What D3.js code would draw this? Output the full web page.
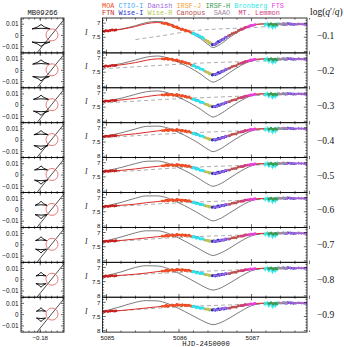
<!DOCTYPE html>
<html>
<head>
<meta charset="utf-8">
<script src="https://cdn.jsdelivr.net/npm/d3@7/dist/d3.min.js"></script>
<style>
  html, body { margin: 0; padding: 0; background: #fff; }
  svg { display: block; }
</style>
</head>
<body>
<div id="chart"></div>
<script>
"use strict";

// q'/q per row (log)
const PANEL_LABELS = ["−0.1", "−0.2", "−0.3", "−0.4", "−0.5", "−0.6", "−0.7", "−0.8", "−0.9"];

// caustic geometry per row
const CAUSTIC_X = -0.1793;
const CAUSTIC_TIP = [0.0097, 0.0093, 0.0089, 0.0085, 0.0081, 0.0077, 0.0072, 0.0067, 0.0062];
const CAUSTIC_WING = [0.0058, 0.0055, 0.0052, 0.0048, 0.0045, 0.0041, 0.0038, 0.0034, 0.0030];
const CAUSTIC_HALF = [0.0080, 0.0074, 0.0068, 0.0063, 0.0058, 0.0053, 0.0049, 0.0045, 0.0041];
const TRAJ_X = [-0.1860, -0.1570];
const TRAJ_Y = [-0.0193, 0.0167];
const SOURCE = [-0.1696, 0.0005];
const SOURCE_R = 0.0053;

// model light curves, I mag at these HJD'
const T_NODES = [5084.94, 5085.2, 5085.4, 5085.55, 5085.7, 5085.85, 5086.0, 5086.15, 5086.3,
  5086.4, 5086.47, 5086.55, 5086.7, 5086.85, 5087.0, 5087.15, 5087.4, 5087.77];

const RED_MODEL = [
  [7.29, 7.22, 7.12, 7.02, 6.98, 7.03, 7.18, 7.31, 7.47, 7.65, 7.77, 7.66, 7.42, 7.23, 7.08, 7.03, 7.03, 7.04],
  [7.30, 7.24, 7.16, 7.08, 7.03, 7.03, 7.10, 7.22, 7.37, 7.52, 7.60, 7.53, 7.35, 7.19, 7.07, 7.03, 7.03, 7.04],
  [7.30, 7.25, 7.19, 7.13, 7.08, 7.06, 7.08, 7.17, 7.31, 7.43, 7.49, 7.44, 7.30, 7.17, 7.07, 7.03, 7.03, 7.04],
  [7.31, 7.26, 7.21, 7.16, 7.11, 7.08, 7.08, 7.15, 7.27, 7.38, 7.43, 7.39, 7.27, 7.15, 7.06, 7.03, 7.02, 7.03],
  [7.31, 7.27, 7.22, 7.17, 7.13, 7.09, 7.08, 7.14, 7.25, 7.34, 7.38, 7.35, 7.25, 7.14, 7.06, 7.03, 7.02, 7.03],
  [7.32, 7.27, 7.23, 7.18, 7.14, 7.10, 7.08, 7.13, 7.23, 7.31, 7.34, 7.31, 7.23, 7.13, 7.06, 7.03, 7.02, 7.03],
  [7.32, 7.28, 7.23, 7.19, 7.15, 7.11, 7.08, 7.12, 7.21, 7.29, 7.31, 7.29, 7.22, 7.13, 7.06, 7.03, 7.02, 7.03],
  [7.32, 7.28, 7.24, 7.20, 7.15, 7.11, 7.08, 7.12, 7.20, 7.27, 7.29, 7.27, 7.21, 7.12, 7.06, 7.03, 7.02, 7.03],
  [7.33, 7.29, 7.24, 7.20, 7.16, 7.12, 7.09, 7.12, 7.19, 7.25, 7.27, 7.25, 7.20, 7.12, 7.06, 7.03, 7.02, 7.03]
];

const BLACK_MODEL = [
  [7.29, 7.21, 7.09, 6.98, 6.94, 7.01, 7.17, 7.33, 7.55, 7.75, 7.86, 7.78, 7.50, 7.26, 7.09, 7.03, 7.03, 7.04],
  [7.30, 7.20, 7.07, 6.97, 6.93, 7.00, 7.16, 7.34, 7.57, 7.76, 7.85, 7.77, 7.51, 7.27, 7.10, 7.04, 7.03, 7.04],
  [7.30, 7.19, 7.05, 6.96, 6.93, 7.00, 7.16, 7.35, 7.58, 7.76, 7.85, 7.77, 7.52, 7.28, 7.10, 7.04, 7.03, 7.04],
  [7.31, 7.18, 7.04, 6.95, 6.94, 7.01, 7.17, 7.36, 7.59, 7.76, 7.84, 7.77, 7.53, 7.29, 7.11, 7.04, 7.02, 7.03],
  [7.31, 7.17, 7.03, 6.95, 6.94, 7.02, 7.18, 7.37, 7.60, 7.76, 7.83, 7.77, 7.54, 7.30, 7.11, 7.04, 7.02, 7.03],
  [7.32, 7.17, 7.02, 6.94, 6.94, 7.02, 7.19, 7.38, 7.60, 7.75, 7.82, 7.76, 7.54, 7.30, 7.11, 7.04, 7.02, 7.03],
  [7.32, 7.16, 7.01, 6.94, 6.94, 7.03, 7.20, 7.40, 7.61, 7.75, 7.81, 7.75, 7.55, 7.31, 7.12, 7.04, 7.02, 7.03],
  [7.32, 7.16, 7.00, 6.94, 6.95, 7.04, 7.21, 7.41, 7.62, 7.75, 7.80, 7.75, 7.55, 7.32, 7.12, 7.04, 7.02, 7.03],
  [7.33, 7.15, 7.00, 6.94, 6.95, 7.05, 7.22, 7.42, 7.62, 7.74, 7.79, 7.74, 7.55, 7.32, 7.12, 7.04, 7.02, 7.03]
];

// single-lens comparison (dashed)
const DASH_T = [5084.94, 5085.4, 5085.8, 5086.2, 5086.6, 5087.0, 5087.4, 5087.77];
const DASH_MODEL = [
  [null, 7.58, 7.43, 7.27, 7.20, 7.16, 7.09, 7.05],
  [7.38, 7.31, 7.25, 7.19, 7.15, 7.12, 7.08, 7.05],
  [7.36, 7.29, 7.23, 7.18, 7.14, 7.10, 7.07, 7.05],
  [7.35, 7.28, 7.22, 7.17, 7.13, 7.09, 7.06, 7.04],
  [7.34, 7.28, 7.21, 7.16, 7.12, 7.09, 7.06, 7.04],
  [7.34, 7.27, 7.21, 7.16, 7.12, 7.08, 7.05, 7.04],
  [7.34, 7.27, 7.20, 7.15, 7.11, 7.08, 7.05, 7.04],
  [7.33, 7.26, 7.20, 7.15, 7.11, 7.07, 7.05, 7.04],
  [7.33, 7.26, 7.19, 7.14, 7.10, 7.07, 7.05, 7.04]
];

// observatories: times, offset from the fitted model, error
const OBS_NAMES = ["FTN", "MOA", "CTIO-I", "Bronberg", "IRSF-J", "Wise-R", "Wise-I", "Danish",
  "Canopus", "MT. Lemmon", "FTS", "Bronberg", "IRSF-H", "SAAO"];
const OBS_COLORS = ["#c81e1e", "#f04e23", "#3fa9f5", "#2ee6e6", "#f5a033", "#b4c85a", "#1e32c8", "#a066e0",
  "#bb5050", "#d23c82", "#e83fd8", "#2ee6e6", "#3a9a50", "#a08ca0"];
const OBS_T = [
  [5084.97, 5084.99, 5085.02, 5085.05, 5085.08, 5085.11, 5085.13, 5085.84, 5085.91, 5085.98, 5086.04, 5086.09],
  [5085.77, 5085.80, 5085.82, 5085.85, 5085.87, 5085.90, 5085.92, 5085.95, 5085.97, 5086.00, 5086.03, 5086.05,
    5086.08, 5086.11, 5086.14, 5086.17],
  [5086.20, 5086.23, 5086.26, 5086.29, 5086.32],
  [5086.19, 5086.21, 5086.24, 5086.27, 5086.30, 5086.33, 5086.35],
  [5086.37, 5086.40, 5086.43],
  [5086.39, 5086.42, 5086.45],
  [5086.46, 5086.48, 5086.50, 5086.52, 5086.54, 5086.56, 5086.58, 5086.60, 5086.62, 5086.65,
    5087.44, 5087.47, 5087.50, 5087.54, 5087.58],
  [5086.49, 5086.53, 5086.57, 5086.61, 5086.64, 5086.68, 5087.49, 5087.53, 5087.57, 5087.61,
    5087.65, 5087.69, 5087.73, 5087.76],
  [5086.70, 5086.73, 5086.76, 5086.79, 5086.82, 5086.85, 5086.88, 5086.91],
  [5086.86, 5086.89, 5086.92, 5086.95],
  [5086.97, 5086.99, 5087.01, 5087.03, 5087.05],
  [5087.19, 5087.22, 5087.24, 5087.27, 5087.29, 5087.31, 5087.33, 5087.36],
  [5087.24, 5087.27, 5087.30, 5087.33, 5087.35],
  [5087.38, 5087.41, 5087.44, 5087.47]
];
const OBS_DM = [
  [0.01, -0.01, 0.01, 0.00, -0.01, 0.01, 0.00, 0.00, -0.01, 0.01, 0.00, -0.01],
  [0.00, 0.01, -0.02, 0.02, 0.00, -0.01, 0.02, 0.01, -0.02, 0.00, 0.02, -0.01, 0.01, 0.00, -0.02, 0.01],
  [0.00, 0.01, -0.01, 0.02, 0.00],
  [0.02, -0.01, 0.03, 0.00, 0.02, -0.01, 0.01],
  [0.01, -0.01, 0.00],
  [0.00, 0.02, -0.01],
  [0.01, -0.01, 0.02, 0.00, -0.02, 0.01, 0.00, -0.01, 0.01, 0.00, 0.00, 0.01, -0.01, 0.00, 0.01],
  [0.00, 0.02, -0.01, 0.01, -0.02, 0.00, 0.01, -0.01, 0.00, 0.01, -0.01, 0.00, 0.01, 0.00],
  [0.01, -0.01, 0.00, 0.02, -0.01, 0.00, 0.01, -0.01],
  [0.00, 0.01, -0.01, 0.00],
  [0.00, -0.01, 0.01, 0.00, -0.01],
  [0.03, 0.00, 0.08, 0.02, 0.12, 0.05, 0.09, 0.01],
  [0.02, 0.00, 0.04, 0.01, 0.03],
  [0.00, 0.01, -0.01, 0.00]
];
const OBS_ERR = [0.015, 0.02, 0.02, 0.03, 0.02, 0.02, 0.015, 0.015, 0.02, 0.02, 0.02, 0.09, 0.04, 0.02];

const LEGEND_ROW1 = [["MOA", "#f04e23"], ["CTIO-I", "#3fa9f5"], ["Danish", "#a066e0"], ["IRSF-J", "#f5a033"],
  ["IRSF-H", "#3a9a50"], ["Bronberg", "#2ee6e6"], ["FTS", "#e83fd8"]];
const LEGEND_ROW2 = [["FTN", "#c81e1e"], ["Wise-I", "#1e32c8"], ["Wise-R", "#b4c85a"], ["Canopus", "#bb5050"],
  [" SAAO", "#a08ca0"], [" MT. Lemmon", "#d23c82"]];

const W = 344, H = 347;
const TOP = 18, PANEL_H = 34.9;
const LX0 = 21, LX1 = 64, RX0 = 102.5, RX1 = 307;
const SANS = "'Liberation Sans', Arial, sans-serif";
const MONO = "'Liberation Mono', 'DejaVu Sans Mono', monospace";
const SERIF = "'Liberation Serif', 'Times New Roman', serif";

const svg = d3.select("#chart").append("svg")
  .attr("width", W).attr("height", H)
  .attr("viewBox", `0 0 ${W} ${H}`);
svg.append("rect").attr("width", W).attr("height", H).attr("fill", "#fff");
const defs = svg.append("defs");

const xL = d3.scaleLinear().domain([-0.197, -0.159]).range([LX0, LX1]);
const xR = d3.scaleLinear().domain([5084.945, 5087.766]).range([RX0, RX1]);

const round = v => Math.round(v * 1e6) / 1e6;

// inward ticks on both sides of a frame
function xTicks(g, scale, vals, y0, y1, len) {
  vals.forEach(v => {
    const x = scale(v);
    g.append("line").attr("x1", x).attr("x2", x).attr("y1", y1).attr("y2", y1 - len);
    g.append("line").attr("x1", x).attr("x2", x).attr("y1", y0).attr("y2", y0 + len);
  });
}
function yTicks(g, scale, vals, x0, x1, len) {
  vals.forEach(v => {
    const y = scale(v);
    g.append("line").attr("x1", x0).attr("x2", x0 + len).attr("y1", y).attr("y2", y);
    g.append("line").attr("x1", x1).attr("x2", x1 - len).attr("y1", y).attr("y2", y);
  });
}

function causticPath(xs, ys, tip, wing, half, sgn) {
  const P = [xs(CAUSTIC_X), ys(sgn * tip)];
  const A = [xs(CAUSTIC_X - half), ys(sgn * wing)];
  const B = [xs(CAUSTIC_X + half), ys(sgn * wing)];
  const C = [(P[0] + A[0] + B[0]) / 3, (P[1] + A[1] + B[1]) / 3];
  const ctrl = (u, v, k) => {
    const m = [(u[0] + v[0]) / 2, (u[1] + v[1]) / 2];
    return [m[0] + (C[0] - m[0]) * k, m[1] + (C[1] - m[1]) * k];
  };
  const p = d3.path();
  p.moveTo(A[0], A[1]);
  let c = ctrl(A, P, 0.5); p.quadraticCurveTo(c[0], c[1], P[0], P[1]);
  c = ctrl(P, B, 0.5); p.quadraticCurveTo(c[0], c[1], B[0], B[1]);
  c = ctrl(B, A, 0.85); p.quadraticCurveTo(c[0], c[1], A[0], A[1]);
  return p.toString();
}

// legend
[[LEGEND_ROW1, 7.6], [LEGEND_ROW2, 14.6]].forEach(([row, y]) => {
  const t = svg.append("text")
    .attr("x", RX0 - 0.5).attr("y", y)
    .attr("font-family", MONO).attr("font-size", "6.9px")
    .style("white-space", "pre");
  row.forEach(([name, color], k) => {
    t.append("tspan").attr("fill", color)
      .text((k > 0 ? " " : "") + name);
  });
});

svg.append("text")
  .attr("x", (LX0 + LX1) / 2).attr("y", 14.5)
  .attr("text-anchor", "middle")
  .attr("font-family", MONO).attr("font-size", "7.2px").attr("fill", "#111")
  .text("MB09266");

const logLab = svg.append("text")
  .attr("x", 310).attr("y", 15)
  .attr("font-family", SERIF).attr("font-size", "9.5px").attr("fill", "#111");
logLab.append("tspan").text("log(");
logLab.append("tspan").attr("font-style", "italic").text("q");
logLab.append("tspan").text("′/");
logLab.append("tspan").attr("font-style", "italic").text("q");
logLab.append("tspan").text(")");

const xMinorL = d3.range(-0.195, -0.159, 0.005).map(round);
const yMajorL = [-0.01, 0, 0.01];
const yMinorL = d3.range(-0.014, 0.0145, 0.002).map(round).filter(v => Math.abs(v % 0.01) > 1e-9);
const xMajorR = [5085, 5086, 5087];
const xMinorR = d3.range(5085, 5087.8, 0.2).map(round).filter(v => !xMajorR.includes(v));
const yMajorR = [7, 7.5, 8];
const yMinorR = d3.range(6.9, 8.05, 0.1).map(round).filter(v => !yMajorR.includes(v));

PANEL_LABELS.forEach((lab, i) => {
  const top = TOP + i * PANEL_H;
  const bot = top + PANEL_H;

  // ---- left: caustics and source trajectory
  const yL = d3.scaleLinear().domain([-0.0155, 0.0155]).range([bot, top]);
  defs.append("clipPath").attr("id", "cl" + i)
    .append("rect").attr("x", LX0).attr("y", top).attr("width", LX1 - LX0).attr("height", PANEL_H);
  const gl = svg.append("g").attr("clip-path", `url(#cl${i})`);

  [1, -1].forEach(sgn => {
    gl.append("path")
      .attr("d", causticPath(xL, yL, CAUSTIC_TIP[i], CAUSTIC_WING[i], CAUSTIC_HALF[i], sgn))
      .attr("fill", "none").attr("stroke", "#000").attr("stroke-width", 0.9)
      .attr("stroke-linejoin", "round");
  });
  gl.append("line")
    .attr("x1", xL(TRAJ_X[0])).attr("y1", yL(TRAJ_Y[0]))
    .attr("x2", xL(TRAJ_X[1])).attr("y2", yL(TRAJ_Y[1]))
    .attr("stroke", "#000").attr("stroke-width", 0.7);
  gl.append("circle")
    .attr("cx", xL(SOURCE[0])).attr("cy", yL(SOURCE[1]))
    .attr("r", xL(SOURCE[0] + SOURCE_R) - xL(SOURCE[0]))
    .attr("fill", "none").attr("stroke", "#e05a5a").attr("stroke-width", 0.8);

  const tl = svg.append("g").attr("stroke", "#000").attr("stroke-width", 0.6);
  xTicks(tl, xL, xMinorL, top, bot, 1.5);
  xTicks(tl, xL, [-0.18], top, bot, 3);
  yTicks(tl, yL, yMinorL, LX0, LX1, 1.5);
  yTicks(tl, yL, yMajorL, LX0, LX1, 3);
  svg.append("rect").attr("x", LX0).attr("y", top).attr("width", LX1 - LX0).attr("height", PANEL_H)
    .attr("fill", "none").attr("stroke", "#000").attr("stroke-width", 0.8);

  yMajorL.forEach(v => {
    svg.append("text")
      .attr("x", 18.5).attr("y", yL(v) + 2.2)
      .attr("text-anchor", "end")
      .attr("font-family", SANS).attr("font-size", "6.4px").attr("fill", "#111")
      .text(v === 0 ? "0" : (v < 0 ? "−" : "") + Math.abs(v));
  });

  // ---- right: light curve
  const yR = d3.scaleLinear().domain([6.82, 8.05]).range([top, bot]);
  defs.append("clipPath").attr("id", "cr" + i)
    .append("rect").attr("x", RX0).attr("y", top).attr("width", RX1 - RX0).attr("height", PANEL_H);
  const gr = svg.append("g").attr("clip-path", `url(#cr${i})`);

  const line = d3.line()
    .defined(d => d[1] != null)
    .x(d => xR(d[0])).y(d => yR(d[1]))
    .curve(d3.curveMonotoneX);

  gr.append("path")
    .attr("d", line(d3.zip(DASH_T, DASH_MODEL[i])))
    .attr("fill", "none").attr("stroke", "#8a8a8a").attr("stroke-width", 0.7)
    .attr("stroke-dasharray", "4,3");
  gr.append("path")
    .attr("d", line(d3.zip(T_NODES, BLACK_MODEL[i])))
    .attr("fill", "none").attr("stroke", "#444").attr("stroke-width", 0.7);
  gr.append("path")
    .attr("d", line(d3.zip(T_NODES, RED_MODEL[i])))
    .attr("fill", "none").attr("stroke", "#dc2a26").attr("stroke-width", 1);

  // data are shown on the magnitude scale of this row's fit
  const fit = d3.scaleLinear().domain(T_NODES).range(RED_MODEL[i]);
  OBS_T.forEach((ts, k) => {
    const pts = ts.map((t, j) => ({ t, m: fit(t) + OBS_DM[k][j], e: OBS_ERR[k] }));
    const g = gr.append("g").attr("fill", OBS_COLORS[k]).attr("stroke", OBS_COLORS[k]);
    g.selectAll("line").data(pts).join("line")
      .attr("x1", d => xR(d.t)).attr("x2", d => xR(d.t))
      .attr("y1", d => yR(d.m - d.e)).attr("y2", d => yR(d.m + d.e))
      .attr("stroke-width", 0.7);
    g.selectAll("circle").data(pts).join("circle")
      .attr("cx", d => xR(d.t)).attr("cy", d => yR(d.m))
      .attr("r", 1.4).attr("stroke", "none");
  });

  const tr = svg.append("g").attr("stroke", "#000").attr("stroke-width", 0.6);
  xTicks(tr, xR, xMinorR, top, bot, 1.6);
  xTicks(tr, xR, xMajorR, top, bot, 3.2);
  yTicks(tr, yR, yMinorR, RX0, RX1, 1.6);
  yTicks(tr, yR, yMajorR, RX0, RX1, 3.2);
  svg.append("rect").attr("x", RX0).attr("y", top).attr("width", RX1 - RX0).attr("height", PANEL_H)
    .attr("fill", "none").attr("stroke", "#000").attr("stroke-width", 0.8);

  yMajorR.forEach(v => {
    svg.append("text")
      .attr("x", 100.5).attr("y", yR(v) + 2.2)
      .attr("text-anchor", "end")
      .attr("font-family", SANS).attr("font-size", "6.2px").attr("fill", "#111")
      .text(v);
  });
  svg.append("text")
    .attr("x", 85).attr("y", top + 16.5)
    .attr("font-family", SERIF).attr("font-style", "italic").attr("font-size", "7.5px").attr("fill", "#222")
    .text("I");

  svg.append("text")
    .attr("x", 317).attr("y", top + PANEL_H / 2 + 3.5)
    .attr("font-family", SERIF).attr("font-size", "9.5px").attr("fill", "#111")
    .text(lab);
});

// bottom axis labels
const BOT = TOP + PANEL_H * PANEL_LABELS.length;
xMajorR.forEach(v => {
  svg.append("text")
    .attr("x", xR(v) + 1).attr("y", BOT + 8)
    .attr("text-anchor", "middle")
    .attr("font-family", SANS).attr("font-size", "6.2px").attr("fill", "#111")
    .text(v);
});
svg.append("text")
  .attr("x", xL(-0.18)).attr("y", BOT + 8)
  .attr("text-anchor", "middle")
  .attr("font-family", SANS).attr("font-size", "6.2px").attr("fill", "#111")
  .text("−0.18");
svg.append("text")
  .attr("x", 206).attr("y", 345.5)
  .attr("text-anchor", "middle")
  .attr("font-family", MONO).attr("font-size", "7.2px").attr("fill", "#111")
  .text("HJD-2450000");
</script>
</body>
</html>
